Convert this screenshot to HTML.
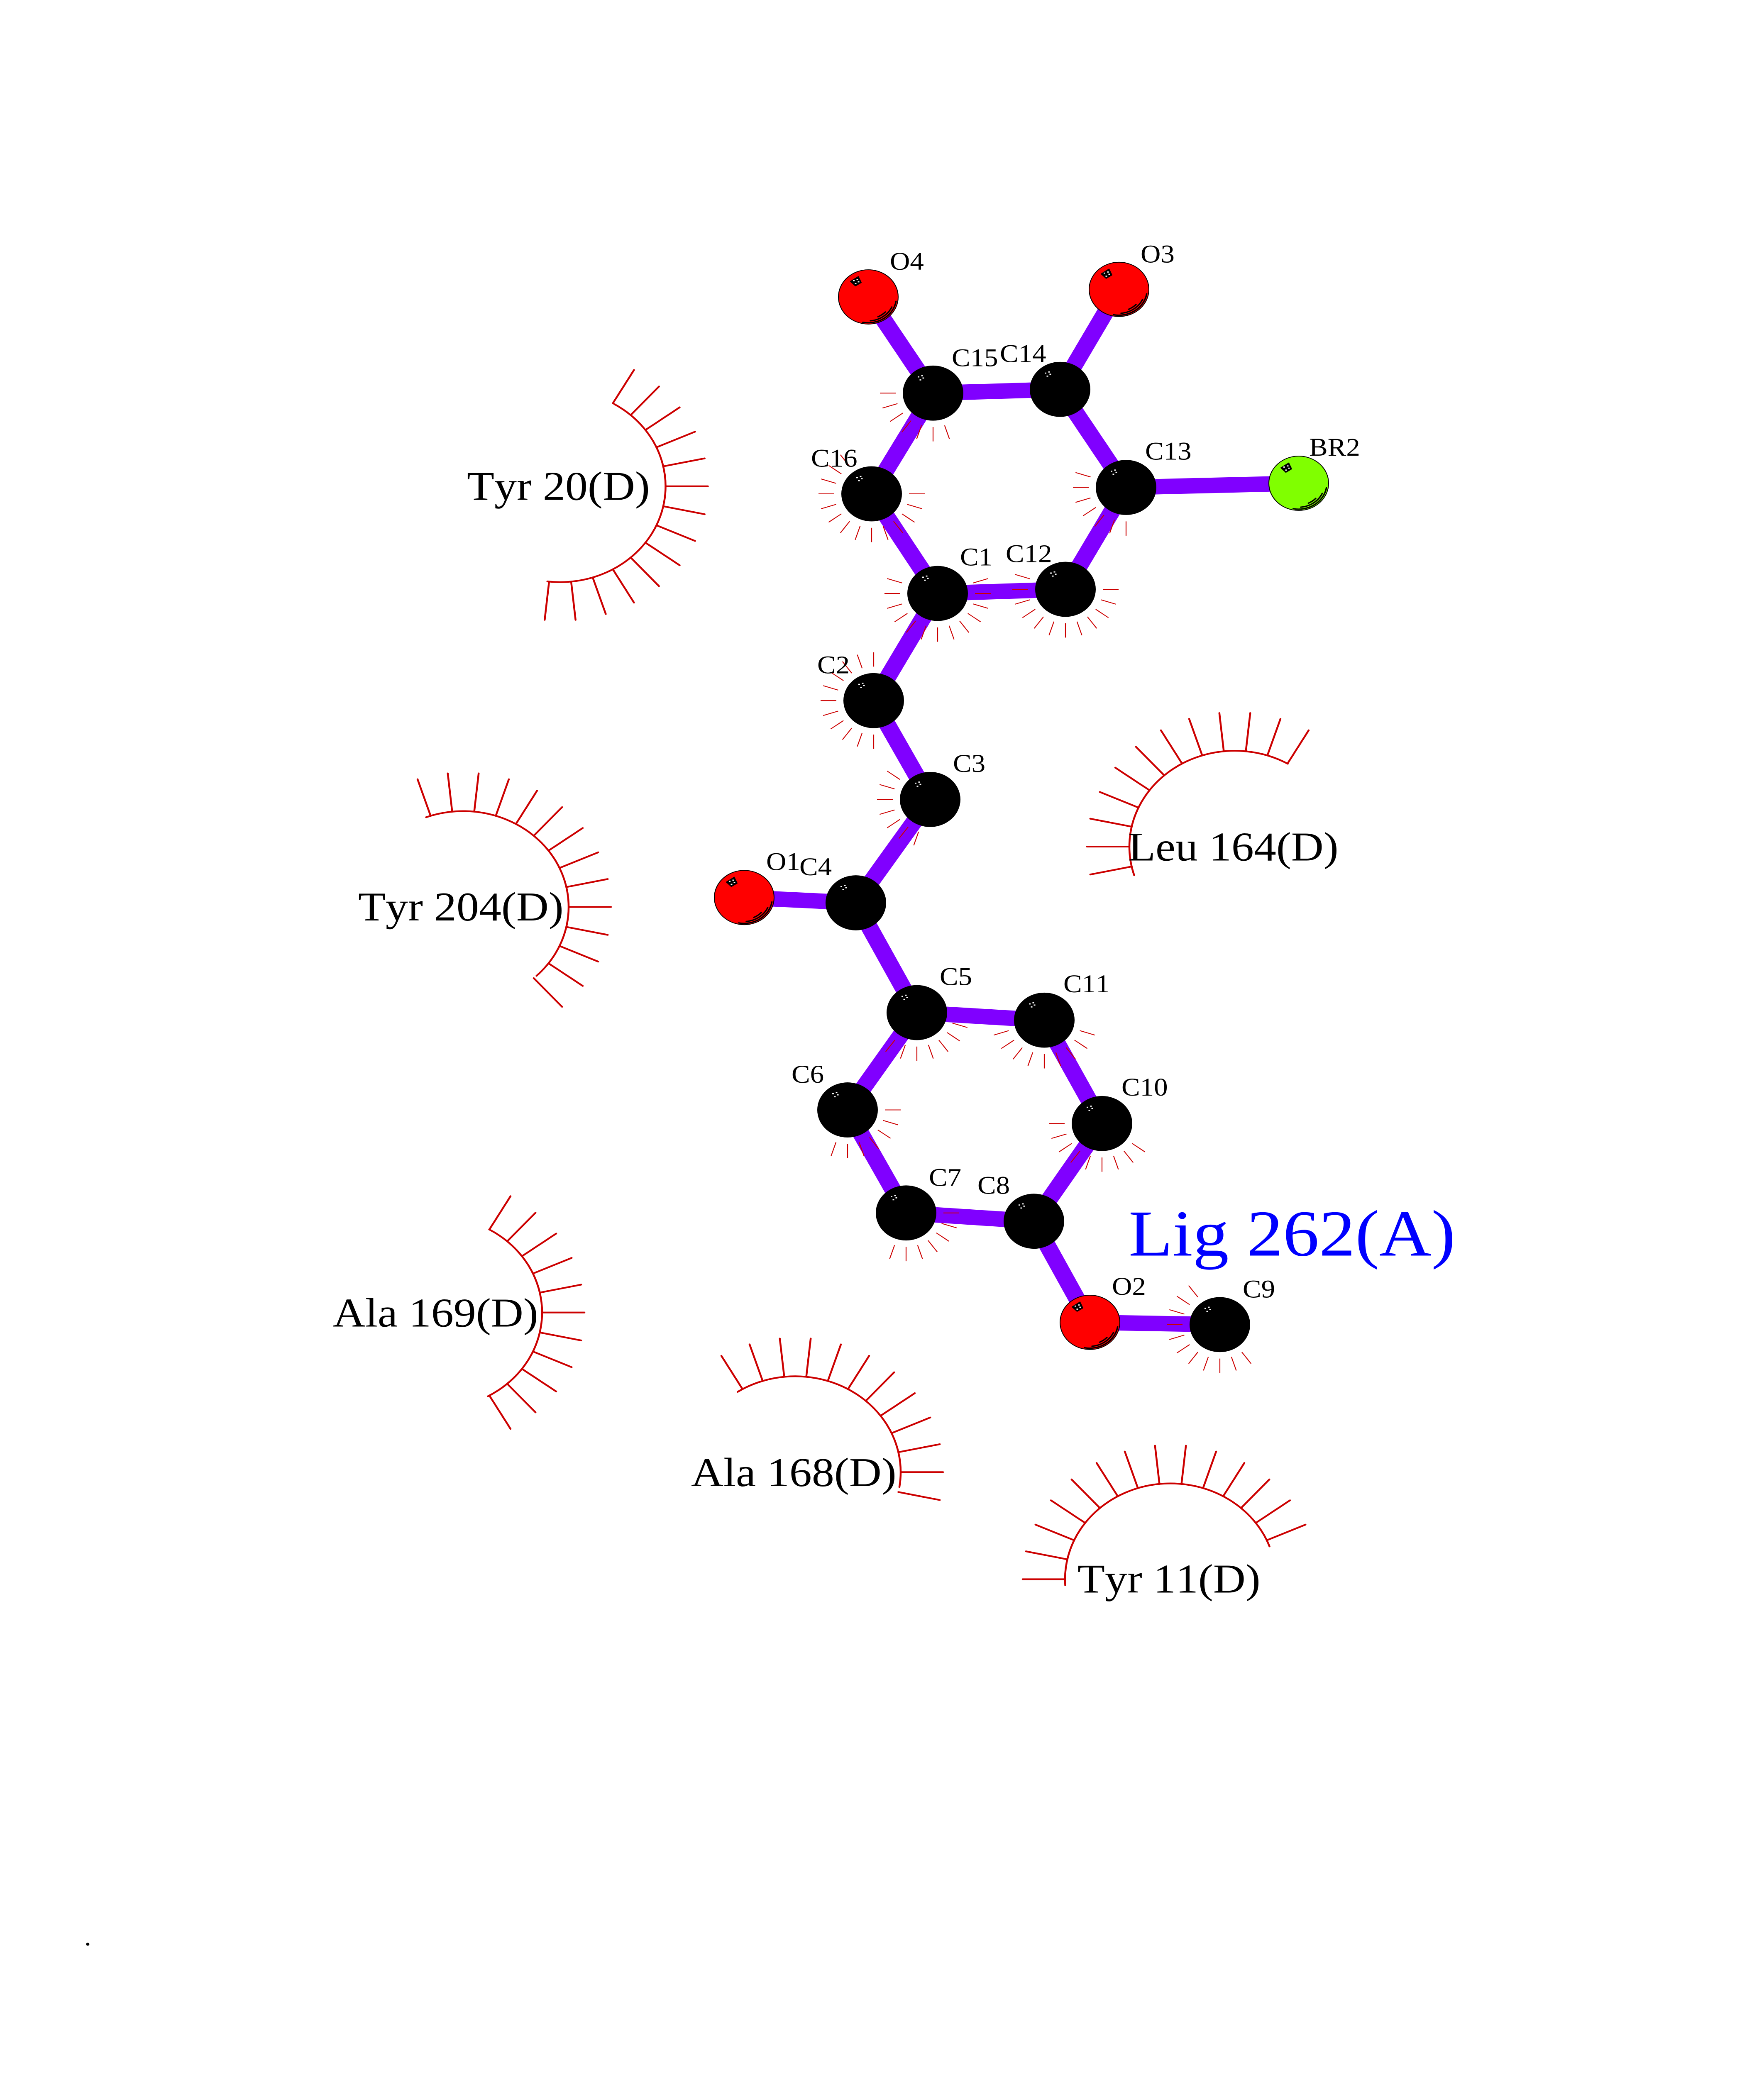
<!DOCTYPE html>
<html><head><meta charset="utf-8"><title>Lig 262(A)</title>
<style>
html,body{margin:0;padding:0;background:#fff;overflow:hidden}
svg{position:fixed;left:0;top:0;display:block;width:100vw;height:100vh}
text{font-family:"Liberation Serif",serif;fill:#000;font-kerning:none}
.t{font-size:67px}
.r{font-size:108px}
</style></head><body>
<svg xmlns="http://www.w3.org/2000/svg" viewBox="0 0 4250 5500" preserveAspectRatio="none">
<defs>
<path id="a" d="M90 0H128" stroke="#cc0000" stroke-width="2.2" fill="none"/>
<path id="s" d="M254 0H356" stroke="#cc0000" stroke-width="4.5" stroke-linecap="round" fill="none"/>
<g id="d" fill="#fff">
<rect x="-7" y="-3.5" width="4" height="3"/><rect x="1.5" y="-6.5" width="4" height="3"/><rect x="4.5" y="-.5" width="4" height="3"/><rect x="-2.5" y="4.5" width="4" height="3"/>
</g>
<circle id="b" r="73" fill="#000"/>
<g id="k">
<circle r="72" stroke="#000" stroke-width="2"/>
<g fill="none" stroke="#000" stroke-width="3.4" stroke-linecap="round">
<path d="M-13.3 67.3A68 68 0 0 0 66.7 11.7"/>
<path d="M5 63.3A63 63 0 0 0 56.7 26.7"/>
<path d="M23.3 52.7A57 57 0 0 0 41 40"/>
</g>
<path d="M-43 -41L-24 -54L-17 -38L-31 -29Z" fill="#000" stroke="#000" stroke-width="2" stroke-linejoin="round"/>
<use href="#d" transform="translate(-30,-41)"/>
</g>
</defs>

<!-- bonds -->
<path fill="none" stroke="#8000ff" stroke-width="41" d="M2092 787L2248 1042M2696 767L2554 1032M2248 1042L2554 1032M2554 1032L2713 1292M2713 1292L3129 1281M2713 1292L2567 1562M2567 1562L2259 1573M2259 1573L2100 1309M2100 1309L2248 1042M2259 1573L2105 1857M2105 1857L2241 2119M2241 2119L2062 2393M2062 2393L1793 2379M2062 2393L2209 2684M2209 2684L2516 2704M2516 2704L2655 2978M2655 2978L2491 3237M2491 3237L2183 3215M2183 3215L2042 2942M2042 2942L2209 2684M2491 3237L2626 3505M2626 3505L2939 3511"/>

<!-- atom fans and atoms -->
<g transform="translate(2092,787)" fill="#ff0000"><use href="#k"/></g>
<g transform="translate(2696,767)" fill="#ff0000"><use href="#k"/></g>
<g transform="translate(3129,1281)" fill="#80ff00"><use href="#k"/></g>
<g transform="translate(1793,2379)" fill="#ff0000"><use href="#k"/></g>
<g transform="translate(2626,3505)" fill="#ff0000"><use href="#k"/></g>

<g transform="translate(2248,1042)">
<use href="#a" transform="rotate(72)"/><use href="#a" transform="rotate(90)"/><use href="#a" transform="rotate(108)"/><use href="#a" transform="rotate(126)"/><use href="#a" transform="rotate(144)"/><use href="#a" transform="rotate(162)"/><use href="#a" transform="rotate(180)"/>
<use href="#b"/><use href="#d" transform="translate(-30,-41)"/></g>

<g transform="translate(2554,1032)"><use href="#b"/><use href="#d" transform="translate(-30,-41)"/></g>

<g transform="translate(2713,1292)">
<use href="#a" transform="rotate(90)"/><use href="#a" transform="rotate(108)"/><use href="#a" transform="rotate(126)"/><use href="#a" transform="rotate(144)"/><use href="#a" transform="rotate(162)"/><use href="#a" transform="rotate(180)"/><use href="#a" transform="rotate(198)"/>
<use href="#b"/><use href="#d" transform="translate(-30,-41)"/></g>

<g transform="translate(2100,1309)">
<use href="#a" transform="rotate(0)"/><use href="#a" transform="rotate(18)"/><use href="#a" transform="rotate(36)"/><use href="#a" transform="rotate(54)"/><use href="#a" transform="rotate(72)"/><use href="#a" transform="rotate(90)"/><use href="#a" transform="rotate(108)"/><use href="#a" transform="rotate(126)"/><use href="#a" transform="rotate(144)"/><use href="#a" transform="rotate(162)"/><use href="#a" transform="rotate(180)"/><use href="#a" transform="rotate(198)"/><use href="#a" transform="rotate(216)"/><use href="#a" transform="rotate(234)"/>
<use href="#b"/><use href="#d" transform="translate(-30,-41)"/></g>

<g transform="translate(2259,1573)">
<use href="#a" transform="rotate(-18)"/><use href="#a" transform="rotate(0)"/><use href="#a" transform="rotate(18)"/><use href="#a" transform="rotate(36)"/><use href="#a" transform="rotate(54)"/><use href="#a" transform="rotate(72)"/><use href="#a" transform="rotate(90)"/><use href="#a" transform="rotate(108)"/><use href="#a" transform="rotate(126)"/><use href="#a" transform="rotate(144)"/><use href="#a" transform="rotate(162)"/><use href="#a" transform="rotate(180)"/><use href="#a" transform="rotate(198)"/>
<use href="#b"/><use href="#d" transform="translate(-30,-41)"/></g>

<g transform="translate(2567,1562)">
<use href="#a" transform="rotate(0)"/><use href="#a" transform="rotate(18)"/><use href="#a" transform="rotate(36)"/><use href="#a" transform="rotate(54)"/><use href="#a" transform="rotate(72)"/><use href="#a" transform="rotate(90)"/><use href="#a" transform="rotate(108)"/><use href="#a" transform="rotate(126)"/><use href="#a" transform="rotate(144)"/><use href="#a" transform="rotate(162)"/><use href="#a" transform="rotate(180)"/><use href="#a" transform="rotate(198)"/>
<use href="#b"/><use href="#d" transform="translate(-30,-41)"/></g>

<g transform="translate(2105,1857)">
<use href="#a" transform="rotate(90)"/><use href="#a" transform="rotate(108)"/><use href="#a" transform="rotate(126)"/><use href="#a" transform="rotate(144)"/><use href="#a" transform="rotate(162)"/><use href="#a" transform="rotate(180)"/><use href="#a" transform="rotate(198)"/><use href="#a" transform="rotate(216)"/><use href="#a" transform="rotate(234)"/><use href="#a" transform="rotate(252)"/><use href="#a" transform="rotate(270)"/>
<use href="#b"/><use href="#d" transform="translate(-30,-41)"/></g>

<g transform="translate(2241,2119)">
<use href="#a" transform="rotate(108)"/><use href="#a" transform="rotate(126)"/><use href="#a" transform="rotate(144)"/><use href="#a" transform="rotate(162)"/><use href="#a" transform="rotate(180)"/><use href="#a" transform="rotate(198)"/><use href="#a" transform="rotate(216)"/>
<use href="#b"/><use href="#d" transform="translate(-30,-41)"/></g>

<g transform="translate(2062,2393)"><use href="#b"/><use href="#d" transform="translate(-30,-41)"/></g>

<g transform="translate(2209,2684)">
<use href="#a" transform="rotate(18)"/><use href="#a" transform="rotate(36)"/><use href="#a" transform="rotate(54)"/><use href="#a" transform="rotate(72)"/><use href="#a" transform="rotate(90)"/><use href="#a" transform="rotate(108)"/><use href="#a" transform="rotate(126)"/>
<use href="#b"/><use href="#d" transform="translate(-30,-41)"/></g>

<g transform="translate(2516,2704)">
<use href="#a" transform="rotate(18)"/><use href="#a" transform="rotate(36)"/><use href="#a" transform="rotate(54)"/><use href="#a" transform="rotate(72)"/><use href="#a" transform="rotate(90)"/><use href="#a" transform="rotate(108)"/><use href="#a" transform="rotate(126)"/><use href="#a" transform="rotate(144)"/><use href="#a" transform="rotate(162)"/>
<use href="#b"/><use href="#d" transform="translate(-30,-41)"/></g>

<g transform="translate(2655,2978)">
<use href="#a" transform="rotate(36)"/><use href="#a" transform="rotate(54)"/><use href="#a" transform="rotate(72)"/><use href="#a" transform="rotate(90)"/><use href="#a" transform="rotate(108)"/><use href="#a" transform="rotate(126)"/><use href="#a" transform="rotate(144)"/><use href="#a" transform="rotate(162)"/><use href="#a" transform="rotate(180)"/>
<use href="#b"/><use href="#d" transform="translate(-30,-41)"/></g>

<g transform="translate(2042,2942)">
<use href="#a" transform="rotate(0)"/><use href="#a" transform="rotate(18)"/><use href="#a" transform="rotate(36)"/><use href="#a" transform="rotate(54)"/><use href="#a" transform="rotate(72)"/><use href="#a" transform="rotate(90)"/><use href="#a" transform="rotate(108)"/>
<use href="#b"/><use href="#d" transform="translate(-30,-41)"/></g>

<g transform="translate(2183,3215)">
<use href="#a" transform="rotate(0)"/><use href="#a" transform="rotate(18)"/><use href="#a" transform="rotate(36)"/><use href="#a" transform="rotate(54)"/><use href="#a" transform="rotate(72)"/><use href="#a" transform="rotate(90)"/><use href="#a" transform="rotate(108)"/>
<use href="#b"/><use href="#d" transform="translate(-30,-41)"/></g>

<g transform="translate(2491,3237)"><use href="#b"/><use href="#d" transform="translate(-30,-41)"/></g>

<g transform="translate(2939,3511)">
<use href="#a" transform="rotate(54)"/><use href="#a" transform="rotate(72)"/><use href="#a" transform="rotate(90)"/><use href="#a" transform="rotate(108)"/><use href="#a" transform="rotate(126)"/><use href="#a" transform="rotate(144)"/><use href="#a" transform="rotate(162)"/><use href="#a" transform="rotate(180)"/><use href="#a" transform="rotate(198)"/><use href="#a" transform="rotate(216)"/><use href="#a" transform="rotate(234)"/>
<use href="#b"/><use href="#d" transform="translate(-30,-41)"/></g>

<!-- residue arcs -->
<g transform="translate(1349.5,1289)">
<circle r="254" pathLength="360" fill="none" stroke="#cc0000" stroke-width="4.5" stroke-linecap="round" stroke-dasharray="156 204" transform="rotate(-59)"/>
<use href="#s" transform="rotate(-60)"/><use href="#s" transform="rotate(-48)"/><use href="#s" transform="rotate(-36)"/><use href="#s" transform="rotate(-24)"/><use href="#s" transform="rotate(-12)"/><use href="#s" transform="rotate(0)"/><use href="#s" transform="rotate(12)"/><use href="#s" transform="rotate(24)"/><use href="#s" transform="rotate(36)"/><use href="#s" transform="rotate(48)"/><use href="#s" transform="rotate(60)"/><use href="#s" transform="rotate(72)"/><use href="#s" transform="rotate(84)"/><use href="#s" transform="rotate(96)"/>
</g>

<g transform="translate(1116,2404)">
<circle r="254" pathLength="360" fill="none" stroke="#cc0000" stroke-width="4.5" stroke-linecap="round" stroke-dasharray="156.5 203.5" transform="rotate(-110.5)"/>
<use href="#s" transform="rotate(-108)"/><use href="#s" transform="rotate(-96)"/><use href="#s" transform="rotate(-84)"/><use href="#s" transform="rotate(-72)"/><use href="#s" transform="rotate(-60)"/><use href="#s" transform="rotate(-48)"/><use href="#s" transform="rotate(-36)"/><use href="#s" transform="rotate(-24)"/><use href="#s" transform="rotate(-12)"/><use href="#s" transform="rotate(0)"/><use href="#s" transform="rotate(12)"/><use href="#s" transform="rotate(24)"/><use href="#s" transform="rotate(36)"/><use href="#s" transform="rotate(48)"/>
</g>

<g transform="translate(2975,2244)">
<circle r="254" pathLength="360" fill="none" stroke="#cc0000" stroke-width="4.5" stroke-linecap="round" stroke-dasharray="137.5 222.5" transform="rotate(162.7)"/>
<use href="#s" transform="rotate(168)"/><use href="#s" transform="rotate(180)"/><use href="#s" transform="rotate(192)"/><use href="#s" transform="rotate(204)"/><use href="#s" transform="rotate(216)"/><use href="#s" transform="rotate(228)"/><use href="#s" transform="rotate(240)"/><use href="#s" transform="rotate(252)"/><use href="#s" transform="rotate(264)"/><use href="#s" transform="rotate(276)"/><use href="#s" transform="rotate(288)"/><use href="#s" transform="rotate(300)"/>
</g>

<g transform="translate(1052,3479)">
<circle r="254" pathLength="360" fill="none" stroke="#cc0000" stroke-width="4.5" stroke-linecap="round" stroke-dasharray="121 239" transform="rotate(-60)"/>
<use href="#s" transform="rotate(-60)"/><use href="#s" transform="rotate(-48)"/><use href="#s" transform="rotate(-36)"/><use href="#s" transform="rotate(-24)"/><use href="#s" transform="rotate(-12)"/><use href="#s" transform="rotate(0)"/><use href="#s" transform="rotate(12)"/><use href="#s" transform="rotate(24)"/><use href="#s" transform="rotate(36)"/><use href="#s" transform="rotate(48)"/><use href="#s" transform="rotate(60)"/>
</g>

<g transform="translate(1916,3902)">
<circle r="254" pathLength="360" fill="none" stroke="#cc0000" stroke-width="4.5" stroke-linecap="round" stroke-dasharray="132 228" transform="rotate(-123)"/>
<use href="#s" transform="rotate(-120)"/><use href="#s" transform="rotate(-108)"/><use href="#s" transform="rotate(-96)"/><use href="#s" transform="rotate(-84)"/><use href="#s" transform="rotate(-72)"/><use href="#s" transform="rotate(-60)"/><use href="#s" transform="rotate(-48)"/><use href="#s" transform="rotate(-36)"/><use href="#s" transform="rotate(-24)"/><use href="#s" transform="rotate(-12)"/><use href="#s" transform="rotate(0)"/><use href="#s" transform="rotate(12)"/>
</g>

<g transform="translate(2820,4186)">
<circle r="254" pathLength="360" fill="none" stroke="#cc0000" stroke-width="4.5" stroke-linecap="round" stroke-dasharray="163.5 196.5" transform="rotate(176.5)"/>
<use href="#s" transform="rotate(180)"/><use href="#s" transform="rotate(192)"/><use href="#s" transform="rotate(204)"/><use href="#s" transform="rotate(216)"/><use href="#s" transform="rotate(228)"/><use href="#s" transform="rotate(240)"/><use href="#s" transform="rotate(252)"/><use href="#s" transform="rotate(264)"/><use href="#s" transform="rotate(276)"/><use href="#s" transform="rotate(288)"/><use href="#s" transform="rotate(300)"/><use href="#s" transform="rotate(312)"/><use href="#s" transform="rotate(324)"/><use href="#s" transform="rotate(336)"/>
</g>

<!-- atom labels -->
<text class="t" x="2144" y="715">O4</text>
<text class="t" x="2748" y="696">O3</text>
<text class="t" x="2293" y="971">C15</text>
<text class="t" x="2409" y="960">C14</text>
<text class="t" x="2759" y="1218">C13</text>
<text class="t" x="3154" y="1208">BR2</text>
<text class="t" x="1954" y="1237">C16</text>
<text class="t" x="2313" y="1499">C1</text>
<text class="t" x="2423" y="1490">C12</text>
<text class="t" x="1969" y="1785">C2</text>
<text class="t" x="2296" y="2046">C3</text>
<text class="t" x="1846" y="2306">O1</text>
<text class="t" x="1926" y="2320">C4</text>
<text class="t" x="2264" y="2611">C5</text>
<text class="t" x="2562" y="2630">C11</text>
<text class="t" x="2702" y="2904">C10</text>
<text class="t" x="1907" y="2870">C6</text>
<text class="t" x="2238" y="3143">C7</text>
<text class="t" x="2355" y="3164">C8</text>
<text class="t" x="2679" y="3432">O2</text>
<text class="t" x="2994" y="3439">C9</text>

<!-- residue labels -->
<text class="r" x="1125" y="1325">Tyr 20(D)</text>
<text class="r" x="863" y="2440">Tyr 204(D)</text>
<text class="r" x="2718" y="2281">Leu 164(D)</text>
<text class="r" x="802" y="3516">Ala 169(D)</text>
<text class="r" x="1665" y="3939">Ala 168(D)</text>
<text class="r" x="2596" y="4221">Tyr 11(D)</text>
<text x="2719" y="3328" style="font-size:174px;fill:#0000ff">Lig 262(A)</text>
<text x="203" y="5156" style="font-size:67px">.</text>
</svg>
</body></html>
